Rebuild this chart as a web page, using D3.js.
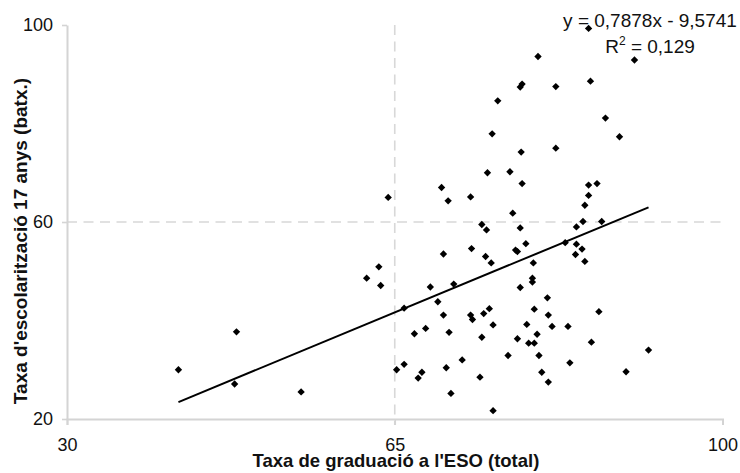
<!DOCTYPE html>
<html>
<head>
<meta charset="utf-8">
<script src="https://cdn.jsdelivr.net/npm/d3@7"></script>
<style>
  html, body { margin: 0; padding: 0; background: #fff; }
  svg { display: block; font-family: "Liberation Sans", Arial, sans-serif; }
</style>
</head>
<body>
<svg id="chart" width="740" height="473"></svg>
<script>
// Graduation rate in ESO (x) vs schooling rate at 17 in batxillerat (y)
const gradRate = [
  85.7, 80.3, 90.6, 78.6, 78.4, 82.2, 85.9, 76.0, 87.5, 75.4, 89.0, 82.2, 78.5,
  74.9, 77.3, 78.6, 70.0, 64.3, 70.7, 73.1, 77.6, 74.3, 74.8, 78.4, 79.0, 77.9,
  78.1, 73.2, 70.2, 74.7, 75.3, 79.8, 63.3, 62.0, 63.5, 68.8, 71.3, 79.7, 79.7,
  78.4, 85.7, 86.6, 85.7, 85.3, 85.1, 84.4, 87.1, 83.2, 84.4, 85.0, 84.3, 85.3,
  81.3, 69.6, 66.0, 70.2, 73.1, 73.3, 74.5, 75.1, 79.9, 81.4, 75.5, 79.1, 67.1,
  68.3, 70.8, 74.3, 78.1, 80.2, 79.3, 79.9, 80.4, 77.1, 72.2, 70.5, 65.2, 66.0,
  67.9, 67.5, 74.1, 80.7, 81.4, 71.0, 75.5, 81.8, 83.5, 86.8, 86.0, 92.1, 83.7,
  89.7, 41.9, 48.1, 47.9, 55.0
];
const schoolRate = [
  99.3, 93.6, 92.9, 88.0, 87.4, 87.5, 88.6, 84.6, 81.1, 77.9, 77.3, 75.0, 74.2,
  70.0, 70.2, 67.8, 67.0, 65.0, 64.3, 65.1, 61.8, 59.5, 58.4, 58.8, 55.6, 54.3,
  54.0, 54.6, 53.5, 53.0, 51.7, 51.7, 50.9, 48.6, 47.1, 46.8, 47.4, 48.6, 47.8,
  46.7, 67.5, 67.8, 65.4, 63.4, 60.1, 59.0, 60.1, 55.8, 55.5, 54.5, 53.4, 52.0,
  44.6, 43.8, 42.5, 41.1, 41.1, 40.2, 41.4, 42.4, 42.3, 41.1, 39.1, 39.2, 37.3,
  38.4, 37.6, 36.6, 36.3, 37.2, 35.4, 35.4, 32.9, 32.9, 32.0, 30.4, 30.0, 31.1,
  29.5, 28.3, 28.5, 29.5, 27.5, 25.2, 21.7, 38.8, 38.8, 41.8, 35.6, 34.0, 31.4,
  29.6, 30.0, 37.7, 27.1, 25.5
];

const xTicks = [30, 65, 100];
const yTicks = [20, 60, 100];
const xRefLine = [65];
const yRefLine = [60];

// Linear fit y = slope * x + intercept, and its R²
const trendSlope = [0.7878];
const trendIntercept = [-9.5741];
const trendR2 = [0.129];

const xTitle = "Taxa de graduació a l'ESO (total)";
const yTitle = "Taxa d'escolarització 17 anys (batx.)";

const svg = d3.select("#chart");
const x = d3.scaleLinear().domain([30, 100]).range([67, 722.5]);
const y = d3.scaleLinear().domain([20, 100]).range([419, 25]);

const axisColor = "#d4d4d4";
const gridColor = "#d8d8d8";

// Dashed reference lines
svg.selectAll("line.href").data(yRefLine).join("line")
  .attr("class", "href")
  .attr("x1", x(30)).attr("x2", x(100))
  .attr("y1", d => y(d)).attr("y2", d => y(d))
  .attr("stroke", gridColor).attr("stroke-width", 1.6)
  .attr("stroke-dasharray", "10,6.5");
svg.selectAll("line.vref").data(xRefLine).join("line")
  .attr("class", "vref")
  .attr("x1", d => x(d)).attr("x2", d => x(d))
  .attr("y1", y(100)).attr("y2", y(20) + 6)
  .attr("stroke", gridColor).attr("stroke-width", 1.6)
  .attr("stroke-dasharray", "10,6.5");

// Axes
const gx = svg.append("g")
  .attr("transform", `translate(0,${y(20)})`)
  .call(d3.axisBottom(x).tickValues(xTicks).tickFormat(d3.format("d"))
    .tickSize(6).tickSizeOuter(6).tickPadding(13));
const gy = svg.append("g")
  .attr("transform", `translate(${x(30)},0)`)
  .call(d3.axisLeft(y).tickValues(yTicks).tickFormat(d3.format("d"))
    .tickSize(5).tickSizeOuter(0).tickPadding(9));

[gx, gy].forEach(g => {
  g.select(".domain").attr("stroke", axisColor).attr("stroke-width", 2);
  g.selectAll(".tick line").attr("stroke", axisColor).attr("stroke-width", 1.6);
  g.selectAll(".tick text")
    .attr("fill", "#111")
    .style("font-size", "18px")
    .style("font-family", "'Liberation Sans', Arial, sans-serif");
});

// Trend line across the range of the data
const xMin = d3.min(gradRate), xMax = d3.max(gradRate);
const fit = v => trendSlope[0] * v + trendIntercept[0];
svg.append("path")
  .datum([xMin, xMax])
  .attr("d", d3.line().x(d => x(d)).y(d => y(fit(d))))
  .attr("fill", "none")
  .attr("stroke", "#000")
  .attr("stroke-width", 2);

// Data points as small diamonds
const pts = gradRate.map((g, i) => [g, schoolRate[i]]);
const diamond = d3.symbol().type(d3.symbolSquare).size(27);
svg.append("g").selectAll("path").data(pts).join("path")
  .attr("d", diamond)
  .attr("transform", d => `translate(${x(d[0])},${y(d[1])}) rotate(45)`)
  .attr("fill", "#000");

// Equation and R² annotation
const loc = d3.formatLocale({ decimal: ",", thousands: ".", grouping: [3], currency: ["", "€"] });
const f4 = loc.format(".4f"), f3 = loc.format(".3f");
const sign = trendIntercept[0] < 0 ? " - " : " + ";
svg.append("text")
  .attr("x", 650).attr("y", 27)
  .attr("text-anchor", "middle")
  .style("font-size", "19px")
  .attr("fill", "#111")
  .text(`y = ${f4(trendSlope[0])}x${sign}${f4(Math.abs(trendIntercept[0]))}`);
const r2 = svg.append("text")
  .attr("x", 650).attr("y", 53)
  .attr("text-anchor", "middle")
  .style("font-size", "19px")
  .attr("fill", "#111");
r2.append("tspan").text("R");
r2.append("tspan").attr("dy", -8).style("font-size", "12px").text("2");
r2.append("tspan").attr("dy", 8).text(` = ${f3(trendR2[0])}`);

// Axis titles
svg.append("text")
  .attr("x", 396).attr("y", 467)
  .attr("text-anchor", "middle")
  .style("font-size", "18.5px").style("font-weight", "bold")
  .attr("fill", "#111")
  .text(xTitle);
svg.append("text")
  .attr("transform", "translate(27,241) rotate(-90)")
  .attr("text-anchor", "middle")
  .style("font-size", "19px").style("font-weight", "bold")
  .attr("fill", "#111")
  .text(yTitle);
</script>
</body>
</html>
